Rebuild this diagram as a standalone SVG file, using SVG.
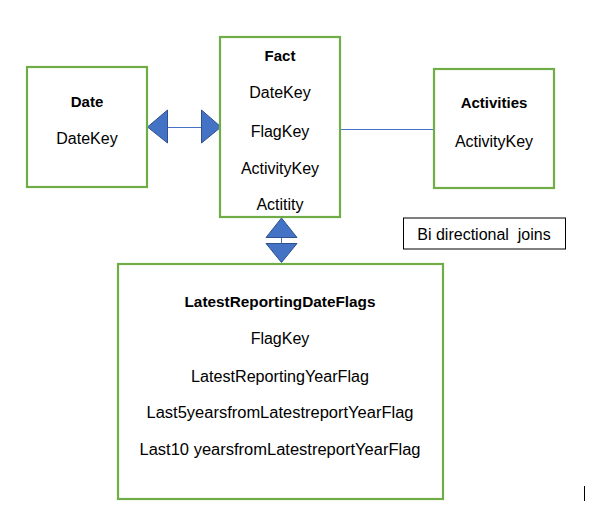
<svg xmlns="http://www.w3.org/2000/svg" width="592" height="513" viewBox="0 0 592 513">
<style>
.box{fill:#fff;stroke:#70AD47;stroke-width:2.2}
.t{font-family:"Liberation Sans",Arial,sans-serif;font-size:16px;fill:#000;text-anchor:middle}
.b{font-weight:bold;font-size:15px}
.tri{fill:#4472C4;stroke:#2F528F;stroke-width:1}
.ln{stroke:#4472C4;stroke-width:1;fill:none}
</style>
<rect width="592" height="513" fill="#fff"/>
<g id="connectors">
<line class="ln" x1="167" y1="127.5" x2="202" y2="127.5"/>
<polygon class="tri" points="147.5,127 167.5,110 167.5,143"/>
<polygon class="tri" points="221,127 201.5,110 201.5,143"/>
<line class="ln" x1="341" y1="129.5" x2="434" y2="129.5"/>
<line class="ln" x1="281.5" y1="237" x2="281.5" y2="244"/>
<polygon class="tri" points="281.5,218 266,237.5 297,237.5"/>
<polygon class="tri" points="281.5,262.5 266,243.5 297,243.5"/>
</g>
<g id="date">
<rect class="box" x="27" y="67" width="120" height="120"/>
<text class="t b" x="87" y="106.5">Date</text>
<text class="t" x="87" y="144">DateKey</text>
</g>
<g id="fact">
<rect class="box" x="220" y="37" width="120" height="180"/>
<text class="t b" x="280" y="60.5">Fact</text>
<text class="t" x="280" y="98">DateKey</text>
<text class="t" x="280" y="136.5">FlagKey</text>
<text class="t" x="280" y="174">ActivityKey</text>
<text class="t" x="280" y="210">Actitity</text>
</g>
<g id="activities">
<rect class="box" x="434" y="69" width="120" height="119"/>
<text class="t b" x="494" y="107.5">Activities</text>
<text class="t" x="494" y="147">ActivityKey</text>
</g>
<g id="legend">
<rect x="403.5" y="218" width="162" height="31" fill="#fff" stroke="#000" stroke-width="1"/>
<text class="t" x="484" y="240" xml:space="preserve" style="white-space:pre">Bi directional  joins</text>
</g>
<g id="latestreportingdateflags">
<rect class="box" x="118" y="264" width="325" height="235"/>
<text class="t b" x="280" y="306.5" textLength="191" lengthAdjust="spacingAndGlyphs">LatestReportingDateFlags</text>
<text class="t" x="280" y="344">FlagKey</text>
<text class="t" x="280" y="381.5" textLength="178" lengthAdjust="spacingAndGlyphs">LatestReportingYearFlag</text>
<text class="t" x="280" y="418" textLength="267" lengthAdjust="spacingAndGlyphs">Last5yearsfromLatestreportYearFlag</text>
<text class="t" x="280" y="455" textLength="281" lengthAdjust="spacingAndGlyphs">Last10 yearsfromLatestreportYearFlag</text>
</g>
<line x1="584.5" y1="486" x2="584.5" y2="501" stroke="#000" stroke-width="1"/>
</svg>
